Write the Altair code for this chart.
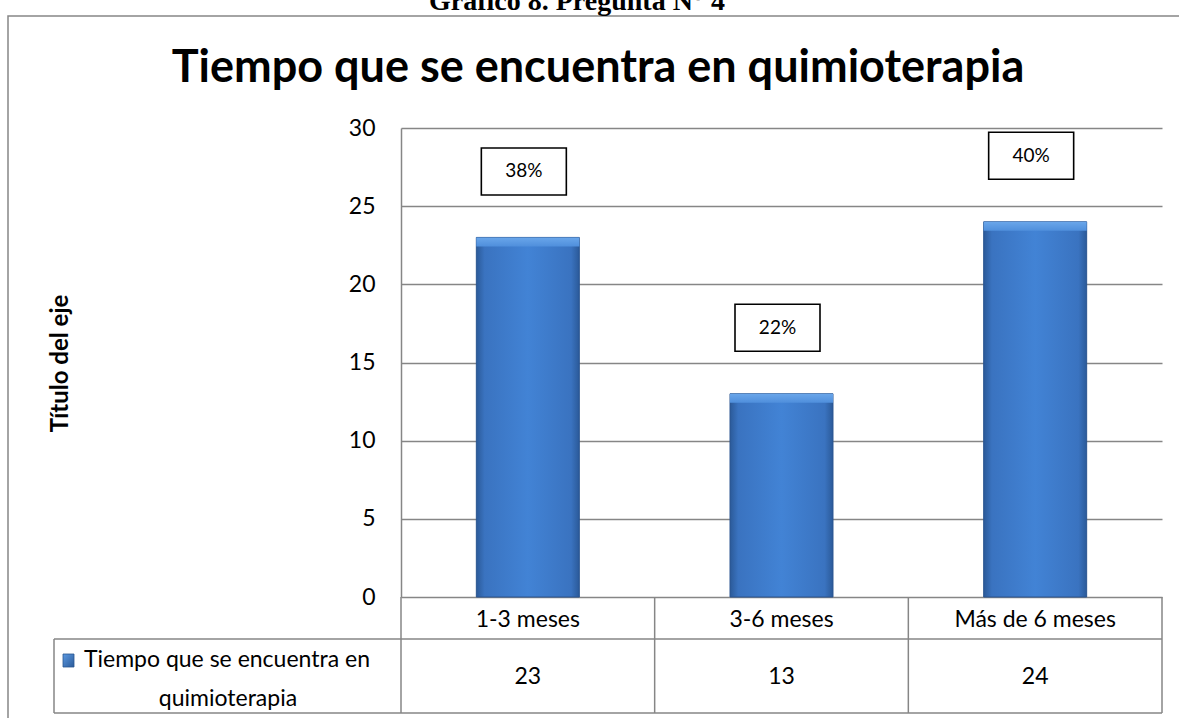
import altair as alt
import pandas as pd

# ---------------- data ----------------
categories = ["1-3 meses", "3-6 meses", "Más de 6 meses"]
values = [23, 13, 24]
percent_labels = ["38%", "22%", "40%"]
y_ticks = [0, 5, 10, 15, 20, 25, 30]
legend_lines = ["Tiempo que se encuentra en", "quimioterapia"]
chart_title = "Tiempo que se encuentra en quimioterapia"
y_title = "Título del eje"
top_caption = "Gráfico 8. Pregunta N° 4"

df = pd.DataFrame({"cat": categories, "value": values, "pct": percent_labels})
one = pd.DataFrame({"k": [0]})

# ---------------- style ----------------
W, H = 761, 469
FONT = "Lato"
GRID = "#868686"
FS = 23

x_scale = alt.Scale(domain=categories, paddingInner=0.594, paddingOuter=0.297)
y_scale = alt.Scale(domain=[0, 30], nice=False, zero=True)

x_enc = alt.X(
    "cat:N", scale=x_scale, sort=categories,
    axis=alt.Axis(title=None, labelAngle=0, labelFont=FONT, labelFontSize=FS,
                  labelColor="black", labelPadding=29, labelBaseline="alphabetic",
                  ticks=False, tickSize=0, domain=False, grid=False),
)
y_enc = alt.Y(
    "value:Q", scale=y_scale,
    axis=alt.Axis(values=y_ticks, title=y_title, titleFont=FONT, titleFontSize=24,
                  titleFontWeight="bold", titleColor="black", titleAngle=270,
                  titleX=-341, titleY=235, titleAlign="center", titleBaseline="middle",
                  labelFont=FONT, labelFontSize=FS, labelColor="black", labelPadding=26,
                  ticks=False, tickSize=0, domainColor=GRID, domainWidth=1.5,
                  grid=True, gridColor=GRID, gridWidth=1.5),
)

bar_fill = alt.Gradient(
    gradient="linear", x1=0, x2=1, y1=0, y2=0,
    stops=[
        alt.GradientStop(color="#2b5a99", offset=0.0),
        alt.GradientStop(color="#3a73c0", offset=0.08),
        alt.GradientStop(color="#4283d5", offset=0.5),
        alt.GradientStop(color="#3a73c0", offset=0.92),
        alt.GradientStop(color="#2b5a99", offset=1.0),
    ],
)
bevel_fill = alt.Gradient(
    gradient="linear", x1=0, x2=0, y1=0, y2=1,
    stops=[
        alt.GradientStop(color="#6aa6ea", offset=0.0),
        alt.GradientStop(color="#4f8fdc", offset=1.0),
    ],
)

base = alt.Chart(df)

bars = base.mark_bar(fill=bar_fill, stroke="#2a5590", strokeWidth=1).encode(x=x_enc, y=y_enc)
bevel = base.mark_bar(fill=bevel_fill, y2Offset=9).encode(
    x=x_enc, y=y_enc, y2="value:Q"
)

box_shape = "M-1,-0.553H1V0.553H-1Z"
boxes = base.mark_point(shape=box_shape, size=7225, filled=True, fill="white",
                        stroke="black", strokeWidth=1.6, opacity=1,
                        yOffset=-66, xOffset=-4).encode(x=x_enc, y=y_enc)
box_text = base.mark_text(font=FONT, fontSize=19, color="black", baseline="middle",
                          yOffset=-66, dx=-4).encode(x=x_enc, y=y_enc, text="pct:N")

value_row = base.mark_text(font=FONT, fontSize=FS, color="black",
                           baseline="alphabetic").encode(
    x=x_enc, y=alt.value(556), text="value:Q")


def rule(x, y, x2=None, y2=None, color=GRID, width=1.5):
    enc = dict(x=alt.value(x), y=alt.value(y))
    if x2 is not None:
        enc["x2"] = alt.value(x2)
    if y2 is not None:
        enc["y2"] = alt.value(y2)
    return alt.Chart(one).mark_rule(color=color, strokeWidth=width).encode(**enc)


step = W / 3
table = [
    rule(-347, 511, x2=W),          # row separator
    rule(-347, 585, x2=W),          # bottom of table
    rule(-347, 511, y2=585),        # left edge of series cell
    rule(0, H, y2=585),
    rule(step, H, y2=585),
    rule(2 * step, H, y2=585),
    rule(W, H, y2=585),
]

outer = alt.Chart(one).mark_rect(fill=None, stroke=GRID, strokeWidth=1.5).encode(
    x=alt.value(-393), y=alt.value(-112), x2=alt.value(790), y2=alt.value(600))

legend_key = alt.Chart(one).mark_rect(
    fill=alt.Gradient(gradient="linear", x1=0, x2=1, y1=0, y2=1,
                      stops=[alt.GradientStop(color="#5c9ae2", offset=0),
                             alt.GradientStop(color="#2b5a99", offset=1)]),
    stroke="#2a5590", strokeWidth=0.8,
).encode(x=alt.value(-338), x2=alt.value(-327), y=alt.value(526), y2=alt.value(539))

legend_l1 = alt.Chart(pd.DataFrame({"t": [legend_lines[0]]})).mark_text(
    font=FONT, fontSize=FS, color="black", align="left", baseline="alphabetic"
).encode(x=alt.value(-317), y=alt.value(539), text="t:N")
legend_l2 = alt.Chart(pd.DataFrame({"t": [legend_lines[1]]})).mark_text(
    font=FONT, fontSize=FS, color="black", align="center", baseline="alphabetic"
).encode(x=alt.value(-173), y=alt.value(578), text="t:N")

title_mark = alt.Chart(pd.DataFrame({"t": [chart_title]})).mark_text(
    font=FONT, fontSize=45, fontWeight="bold", color="black", align="center",
    baseline="alphabetic"
).encode(x=alt.value(197), y=alt.value(-46), text="t:N")

caption_mark = alt.Chart(pd.DataFrame({"t": [top_caption]})).mark_text(
    font="Liberation Serif", fontSize=28, fontWeight="bold", color="black",
    align="center", baseline="alphabetic"
).encode(x=alt.value(176), y=alt.value(-118), text="t:N")

chart = alt.layer(
    outer, *table, bars, bevel, boxes, box_text, value_row,
    legend_key, legend_l1, legend_l2, title_mark, caption_mark,
).properties(
    width=W, height=H,
    autosize=alt.AutoSizeParams(type="none"),
    padding={"left": 401, "top": 128, "right": 17, "bottom": 121},
    background="white",
).configure_view(stroke=None)

chart.save("out.html", embed_options={"renderer": "svg", "actions": False})
